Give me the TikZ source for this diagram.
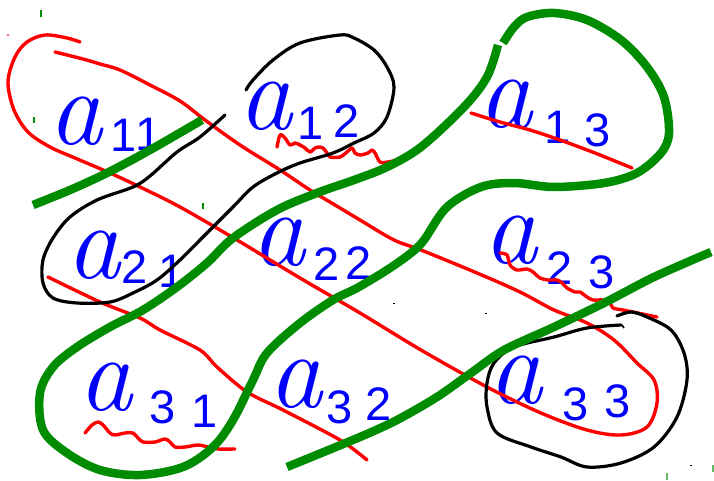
\documentclass[tikz,border=0pt]{standalone}
\usepackage{fontspec}
\newfontfamily\digitfont{Liberation Sans}
\definecolor{penred}{RGB}{255,0,0}
\definecolor{pengreen}{RGB}{0,140,0}
\definecolor{penblue}{RGB}{0,0,255}
\tikzset{
  redpen/.style={draw=penred, line width=3.4pt, line cap=round, line join=round},
  blackpen/.style={draw=black, line width=3.2pt, line cap=round, line join=round},
  greenpen/.style={draw=pengreen, line width=8.5pt, line join=round},
  letter/.style={penblue, inner sep=0pt, anchor=base west,
    font=\fontsize{108}{108}\selectfont\itshape},
  digit/.style={penblue, inner sep=0pt, anchor=base,
    font=\fontsize{47}{47}\selectfont\digitfont},
  speck/.style={line width=1.6pt}
}
\begin{document}
\begin{tikzpicture}[x=1pt,y=-1pt]
\useasboundingbox (0,0) rectangle (714,481);

% ---- matrix entries ----
\node[letter] (a11) at (48,145) {a};
\node[digit] (a11r) at (124,152) {1};
\node[digit] (a11c) at (149,151) {1};
\node[letter] (a12) at (238,130) {a};
\node[digit] (a12r) at (311,140) {1};
\node[digit] (a12c) at (347,138) {2};
\node[letter] (a13) at (478,128) {a};
\node[digit] (a13r) at (558,144) {1};
\node[digit] (a13c) at (598,147) {3};
\node[letter] (a21) at (66,278) {a};
\node[digit] (a21r) at (135,283) {2};
\node[digit] (a21c) at (172,287) {1};
\node[letter] (a22) at (251,265) {a};
\node[digit] (a22r) at (327,280) {2};
\node[digit] (a22c) at (359,279) {2};
\node[letter] (a23) at (483,263) {a};
\node[digit] (a23r) at (560,284) {2};
\node[digit] (a23c) at (602,288) {3};
\node[letter] (a31) at (78,410) {a};
\node[digit] (a31r) at (163,423) {3};
\node[digit] (a31c) at (205,427) {1};
\node[letter] (a32) at (268,407) {a};
\node[digit] (a32r) at (340,423) {3};
\node[digit] (a32c) at (379,420) {2};
\node[letter] (a33) at (488,403) {a};
\node[digit] (a33r) at (576,420) {3};
\node[digit] (a33c) at (618,417) {3};

% ---- red strokes: positive products ----
% loop along the main diagonal
\draw[redpen] plot[smooth, tension=0.55] coordinates {
  (80,42) (67,38) (45,35) (27,42) (15,57) (8,82) (14,110) (28,132) (50,147)
  (75,158) (110,173) (140,187) (180,207) (237,240) (300,278) (360,313)
  (421,350) (487,387) (541,413) (587,430) (621,435) (647,427) (657,403)
  (654,380) (637,363) (614,340) (587,323) (554,310) (520,292) (477,273)
  (421,250) (394,240) (360,220) (335,205) (310,190) (280,170) (240,145)
  (205,120) (180,101) (150,85) (120,70) (100,64) (83,59) (55,52)};
% wiggles under a12, a23, a31
\draw[redpen] plot[smooth, tension=0.5] coordinates {
  (277,147) (280,135) (285,138) (290,145) (295,143) (300,145) (305,148)
  (310,152) (315,148) (318,147) (323,148) (327,153) (330,157) (340,157)
  (347,152) (352,148) (355,153) (360,155) (368,153) (372,150) (375,153)
  (380,162) (388,162) (397,160)};
\draw[redpen] plot[smooth, tension=0.5] coordinates {
  (500,253) (507,255) (510,265) (517,270) (527,269) (533,272) (540,278)
  (548,280) (557,280) (562,283) (567,288) (575,292) (580,292) (587,297)
  (593,300) (603,300) (610,303) (613,308) (623,310) (633,312) (647,315)
  (657,317)};
\draw[redpen] plot[smooth, tension=0.5] coordinates {
  (85,433) (92,425) (98,422) (103,425) (110,433) (115,435) (125,433)
  (133,433) (138,438) (143,442) (155,442) (165,439) (170,442) (175,447)
  (185,447) (198,445) (208,447) (218,449) (235,449)};
% underline of a13 and the a21 -- a32 line
\draw[redpen] plot[smooth, tension=0.5] coordinates {
  (471,113) (500,122) (530,130) (560,140) (595,153) (632,168)};
\draw[redpen] plot[smooth, tension=0.5] coordinates {
  (48,277) (100,302) (140,318) (160,330) (200,350) (217,367) (247,392)
  (283,410) (340,440) (367,460)};

% ---- black strokes ----
\draw[blackpen] plot[smooth, tension=0.55] coordinates {
  (225,115) (200,137) (177,152) (150,176) (133,187) (97,200) (70,217)
  (53,238) (43,260) (43,283) (53,298) (77,303) (110,302) (133,293)
  (157,280) (180,260) (200,240) (233,207) (253,187) (277,173) (300,163)
  (333,153) (354,143) (374,133) (387,117) (394,87) (387,67) (374,50)
  (354,38) (340,35) (300,43) (273,60) (253,80) (246,90)};
\draw[blackpen] plot[smooth, tension=0.55] coordinates {
  (621,325) (587,328) (554,337) (514,347) (494,363) (487,383) (487,407)
  (497,433) (531,447) (561,457) (587,467) (621,463) (654,447) (677,417)
  (687,380) (684,353) (671,330) (647,317) (631,312) (617,316)};

% ---- green strokes: negative products ----
\draw[greenpen] plot[smooth, tension=0.5] coordinates {
  (33,205) (70,190) (107,173) (150,150) (202,120)};
\draw[greenpen] plot[smooth, tension=0.55] coordinates {
  (498,45) (487,77) (464,107) (421,147) (387,167) (354,180) (317,193)
  (277,210) (233,238) (207,263) (177,287) (143,310) (110,327) (77,347)
  (53,367) (40,393) (43,430) (67,453) (100,470) (140,475) (183,467)
  (213,447) (233,420) (253,380) (267,353) (300,323) (333,300) (357,288)
  (387,270) (411,253) (424,240) (447,207) (481,187) (514,183) (554,187)
  (604,183) (637,173) (661,153) (669,133) (664,97) (647,67) (621,40)
  (587,20) (554,13) (527,17) (514,27) (503,43)};
\draw[greenpen] plot[smooth, tension=0.5] coordinates {
  (287,467) (360,437) (397,420) (437,397) (471,373) (504,350) (554,327)
  (604,303) (654,277) (711,252)};

% ---- stray pen specks ----
\draw[speck, pengreen] (41,10) -- (41,17);
\draw[speck, pengreen] (34,117) -- (34,123);
\draw[speck, pengreen] (203,203) -- (203,209);
\draw[speck, pengreen!60] (667,473) -- (667,480);
\draw[speck, pengreen!60] (713,465) -- (713,472);
\draw[speck, penred!60] (8,34) -- (8,36);
\draw[speck] (691,465) -- (691,466);
\draw[speck] (394,303) -- (394,304);
\draw[speck] (486,313) -- (486,314);
\draw[speck] (622,325) -- (624,328);
\end{tikzpicture}
\end{document}
